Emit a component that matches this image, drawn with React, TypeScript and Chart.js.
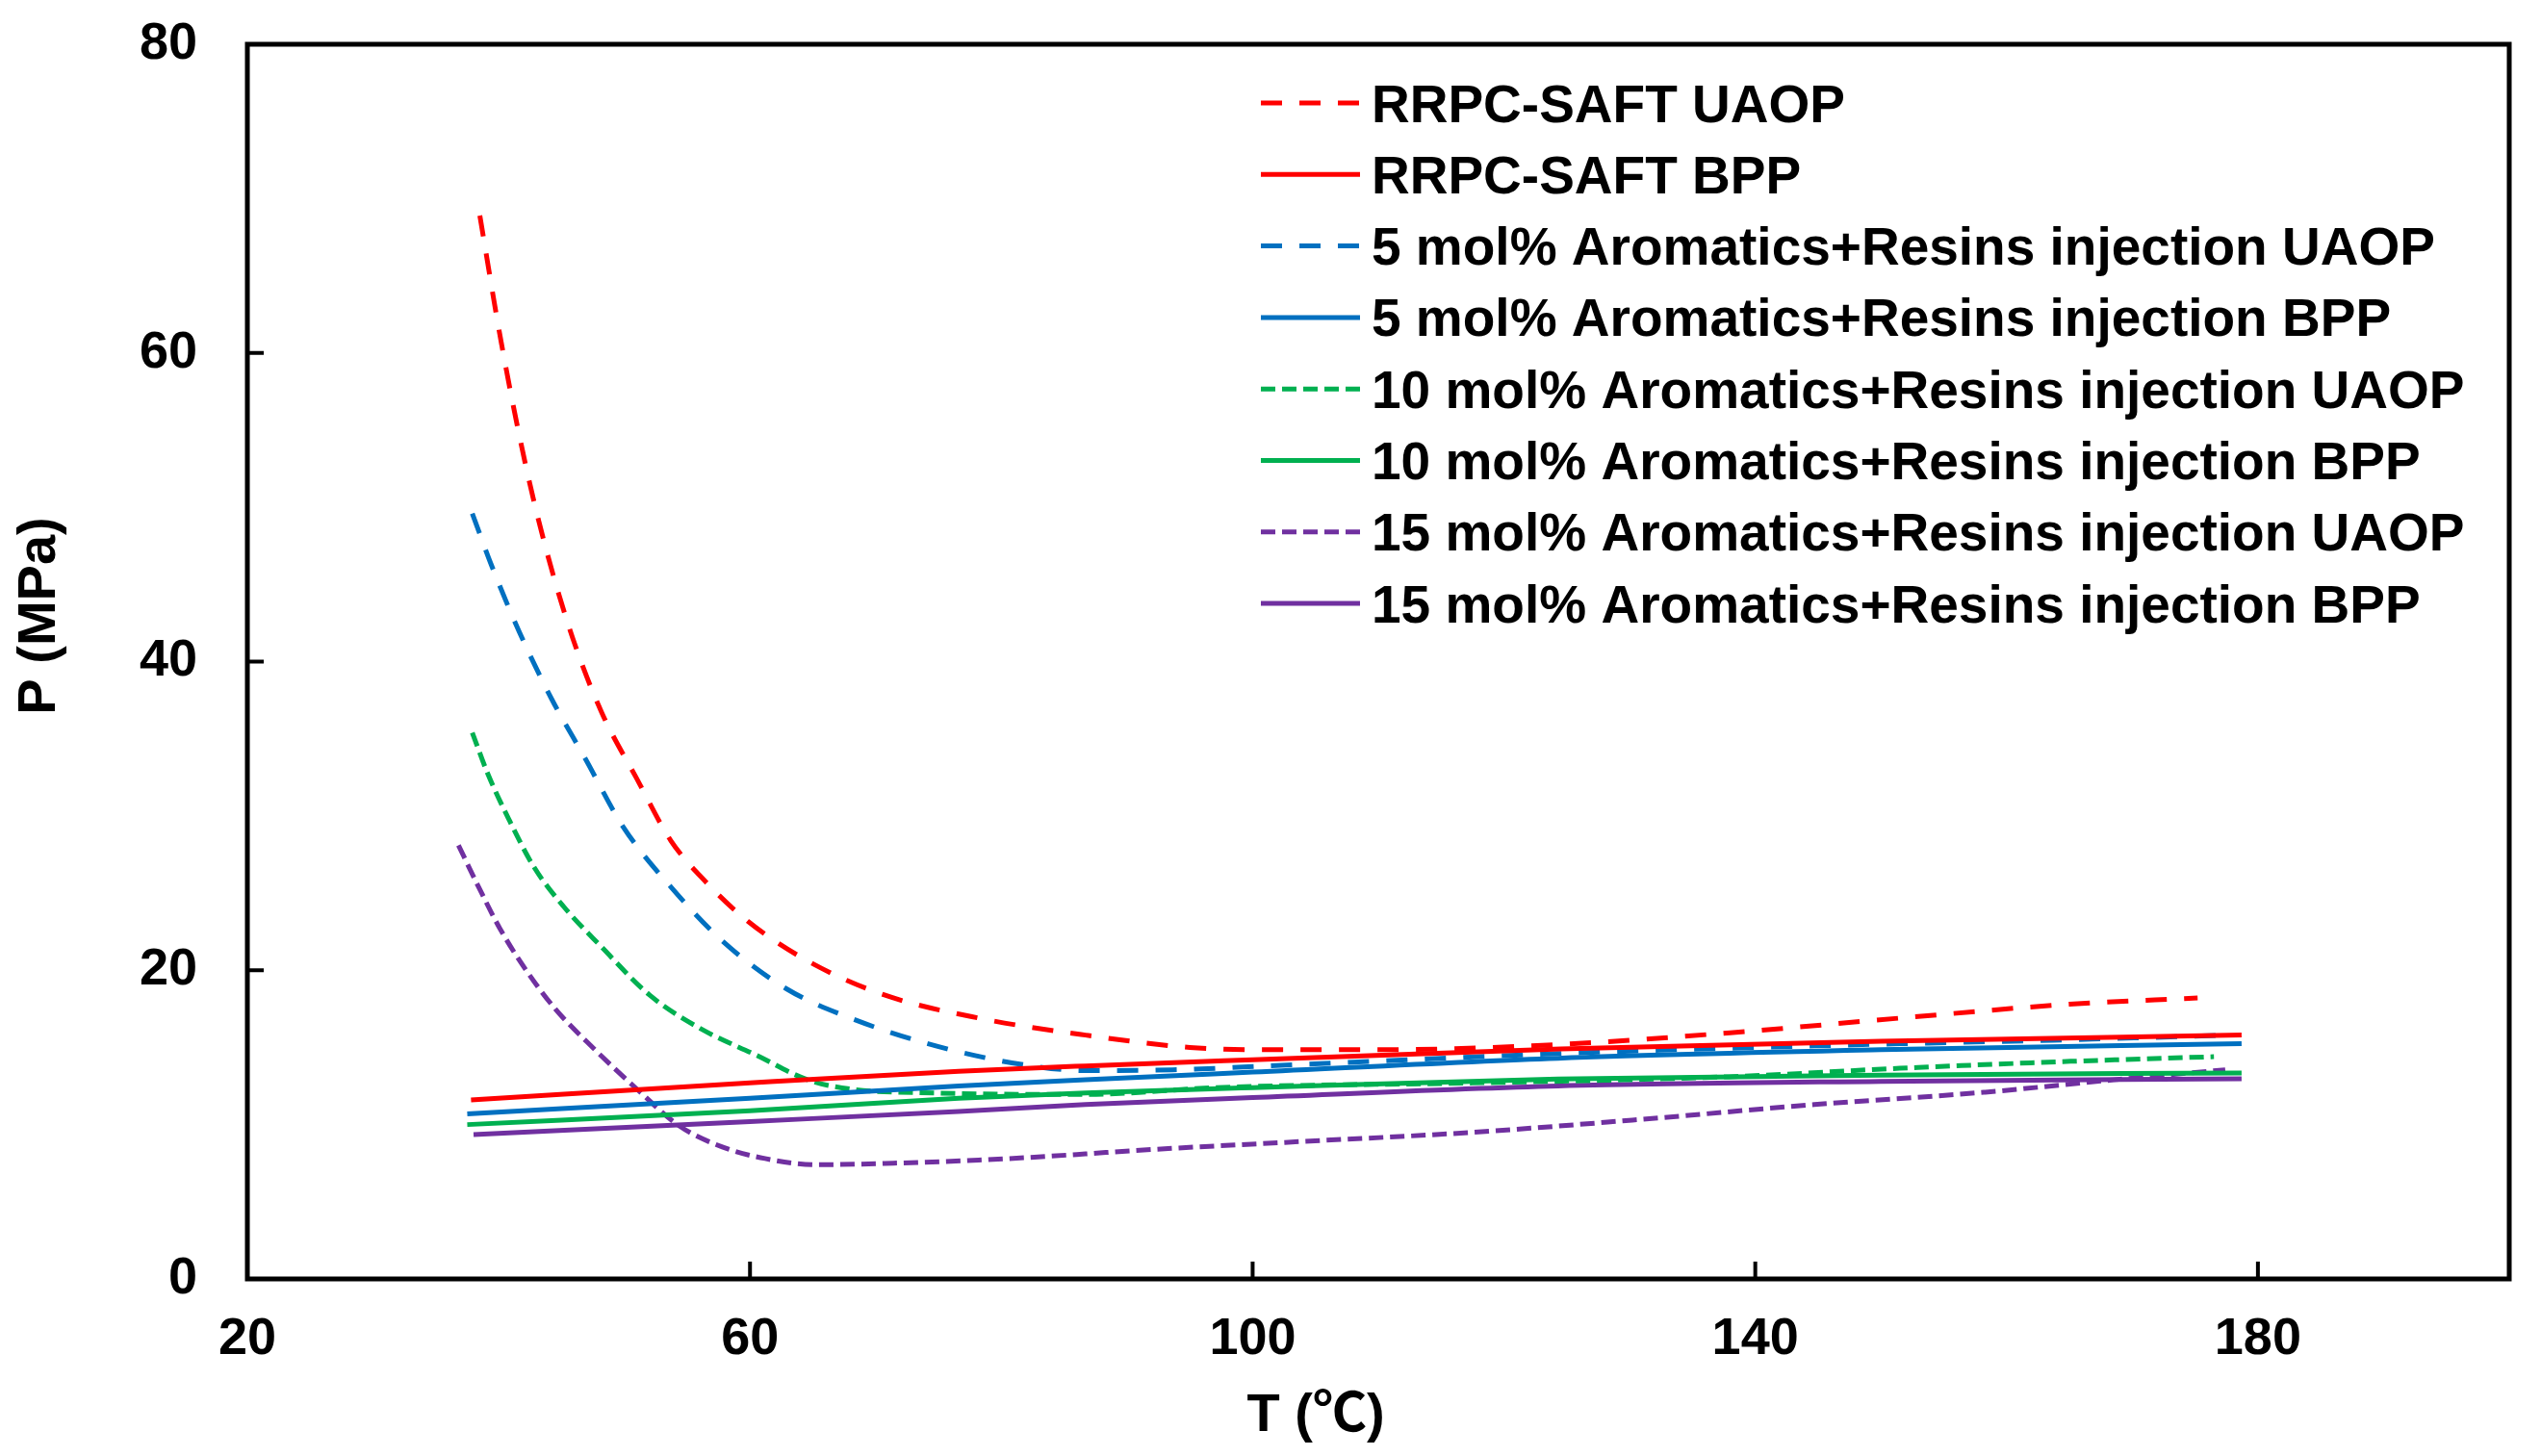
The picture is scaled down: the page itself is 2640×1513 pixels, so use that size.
import React, { useEffect, useRef } from "react";
import { Chart, registerables } from "chart.js";

Chart.register(...registerables);

// ---- Axis ticks ----
const X_TICKS = [20, 60, 100, 140, 180];
const Y_TICKS = [0, 20, 40, 60, 80];
const X_INNER_TICKS = [60, 100, 140, 180];
const Y_INNER_TICKS = [20, 40, 60];

// ---- Series labels ----
const SERIES_LABELS = [
  "RRPC-SAFT UAOP",
  "RRPC-SAFT BPP",
  "5 mol% Aromatics+Resins injection UAOP",
  "5 mol% Aromatics+Resins injection BPP",
  "10 mol% Aromatics+Resins injection UAOP",
  "10 mol% Aromatics+Resins injection BPP",
  "15 mol% Aromatics+Resins injection UAOP",
  "15 mol% Aromatics+Resins injection BPP",
];

// ---- RRPC-SAFT ----
const T_RRPC_UAOP = [38.5, 40.2, 42.1, 43.8, 45.9, 48.2, 51.0, 53.7, 56.4, 59.8, 64.6, 70.7, 78.2, 86.7, 95.0, 100.5, 110.5, 124.5, 138.0, 151.5, 165.0, 175.2];
const P_RRPC_UAOP = [68.9, 60.7, 52.9, 47.2, 41.5, 36.7, 32.4, 28.4, 25.8, 23.2, 20.6, 18.4, 16.9, 15.8, 15.0, 14.85, 14.85, 15.2, 15.95, 16.9, 17.8, 18.2];
const T_RRPC_BPP = [37.8, 60.0, 76.6, 86.7, 100.0, 124.5, 150.0, 178.7];
const P_RRPC_BPP = [11.6, 12.7, 13.45, 13.8, 14.2, 14.9, 15.4, 15.8];

// ---- 5 mol% ----
const T_5_UAOP = [37.9, 39.4, 41.6, 44.2, 46.9, 49.9, 53.7, 57.8, 62.9, 68.0, 74.8, 81.6, 86.7, 93.6, 103.8, 124.3, 144.7, 165.1, 178.0];
const P_5_UAOP = [49.6, 46.3, 42.0, 37.6, 33.7, 29.3, 25.4, 21.9, 18.8, 16.9, 15.1, 13.9, 13.5, 13.55, 13.9, 14.6, 15.1, 15.5, 15.8];
const T_5_BPP = [37.5, 60.0, 76.6, 86.7, 100.0, 124.3, 150.0, 178.7];
const P_5_BPP = [10.7, 11.7, 12.5, 12.9, 13.4, 14.3, 14.85, 15.25];

// ---- 10 mol% ----
const T_10_UAOP = [37.9, 39.1, 40.8, 42.8, 45.2, 48.2, 52.0, 56.1, 60.5, 64.6, 68.0, 74.8, 86.7, 97.1, 117.5, 137.9, 151.5, 165.1, 176.5];
const P_10_UAOP = [35.4, 32.8, 29.8, 26.7, 24.1, 21.5, 18.4, 16.2, 14.5, 12.9, 12.3, 12.05, 11.95, 12.4, 12.7, 13.1, 13.65, 14.1, 14.4];
const T_10_BPP = [37.5, 60.0, 76.6, 86.7, 100.0, 124.3, 150.0, 178.7];
const P_10_BPP = [10.0, 10.9, 11.7, 12.05, 12.4, 12.95, 13.2, 13.35];

// ---- 15 mol% ----
const T_15_UAOP = [36.8, 38.4, 40.1, 42.1, 44.5, 47.6, 51.0, 54.4, 57.8, 61.2, 65.3, 71.4, 78.2, 86.7, 90.2, 103.8, 117.5, 131.1, 144.7, 158.3, 168.5, 177.4];
const P_15_UAOP = [28.1, 25.4, 22.7, 20.1, 17.5, 14.9, 12.3, 9.9, 8.55, 7.8, 7.4, 7.5, 7.7, 8.1, 8.3, 8.9, 9.5, 10.35, 11.3, 12.1, 12.9, 13.55];
const T_15_BPP = [38.0, 60.0, 76.6, 86.7, 100.0, 124.3, 150.0, 178.7];
const P_15_BPP = [9.35, 10.2, 10.85, 11.3, 11.75, 12.5, 12.8, 12.97];

const RED = "#FF0000";
const BLUE = "#0070C0";
const GREEN = "#00B050";
const PURPLE = "#7030A0";

const LONG_DASH = [22, 18];
const SHORT_DASH = [15, 7];

const FONT_FAMILY = '"Liberation Sans", Arial, "Noto Sans CJK SC", sans-serif';

function zip(t: number[], p: number[]) {
  return t.map((x, i) => ({ x, y: p[i] }));
}

export default function App() {
  const ref = useRef<HTMLCanvasElement>(null);

  useEffect(() => {
    document.body.style.margin = "0";
    document.body.style.overflow = "hidden";
    const canvas = ref.current!;

    const seriesDefs = [
      { t: T_RRPC_UAOP, p: P_RRPC_UAOP, color: RED, dash: LONG_DASH },
      { t: T_RRPC_BPP, p: P_RRPC_BPP, color: RED, dash: [] as number[] },
      { t: T_5_UAOP, p: P_5_UAOP, color: BLUE, dash: LONG_DASH },
      { t: T_5_BPP, p: P_5_BPP, color: BLUE, dash: [] as number[] },
      { t: T_10_UAOP, p: P_10_UAOP, color: GREEN, dash: SHORT_DASH },
      { t: T_10_BPP, p: P_10_BPP, color: GREEN, dash: [] as number[] },
      { t: T_15_UAOP, p: P_15_UAOP, color: PURPLE, dash: SHORT_DASH },
      { t: T_15_BPP, p: P_15_BPP, color: PURPLE, dash: [] as number[] },
    ];

    const datasets = seriesDefs.map((s, i) => ({
      label: SERIES_LABELS[i],
      data: zip(s.t, s.p),
      borderColor: s.color,
      backgroundColor: s.color,
      borderWidth: 5,
      borderDash: s.dash,
      borderCapStyle: "butt" as const,
      pointRadius: 0,
      pointHoverRadius: 0,
      fill: false,
      cubicInterpolationMode: "monotone" as const,
    }));

    const framePlugin = {
      id: "frame",
      afterDatasetsDraw(chart: any) {
        const ctx = chart.ctx as CanvasRenderingContext2D;
        const area = chart.chartArea;
        const xs = chart.scales.x;
        const ys = chart.scales.y;
        ctx.save();
        ctx.setLineDash([]);
        ctx.strokeStyle = "#000";
        // inner ticks
        ctx.lineWidth = 4;
        X_INNER_TICKS.forEach((v) => {
          const px = xs.getPixelForValue(v);
          ctx.beginPath();
          ctx.moveTo(px, area.bottom);
          ctx.lineTo(px, area.bottom - 18);
          ctx.stroke();
        });
        Y_INNER_TICKS.forEach((v) => {
          const py = ys.getPixelForValue(v);
          ctx.beginPath();
          ctx.moveTo(area.left, py);
          ctx.lineTo(area.left + 17, py);
          ctx.stroke();
        });
        // box
        ctx.lineWidth = 5;
        ctx.lineJoin = "miter";
        ctx.strokeRect(area.left, area.top, area.right - area.left, area.bottom - area.top);

        // axis titles
        ctx.fillStyle = "#000";
        ctx.font = `bold 56px ${FONT_FAMILY}`;
        ctx.textAlign = "center";
        ctx.textBaseline = "middle";
        ctx.fillText("T (℃)", 1367, 1472);
        ctx.save();
        ctx.translate(42, 640);
        ctx.rotate(-Math.PI / 2);
        ctx.fillText("P (MPa)", 0, 0);
        ctx.restore();

        // legend
        const x0 = 1310;
        const x1 = 1413;
        const tx = 1425;
        ctx.font = `bold 55px ${FONT_FAMILY}`;
        ctx.textAlign = "left";
        ctx.textBaseline = "alphabetic";
        seriesDefs.forEach((s, i) => {
          const y = 107 + i * 74.3;
          ctx.strokeStyle = s.color;
          ctx.lineWidth = 5;
          ctx.lineCap = "butt";
          ctx.setLineDash(s.dash);
          ctx.lineDashOffset = 0;
          ctx.beginPath();
          ctx.moveTo(x0, y);
          ctx.lineTo(x1, y);
          ctx.stroke();
          ctx.setLineDash([]);
          ctx.fillStyle = "#000";
          ctx.fillText(SERIES_LABELS[i], tx, y + 19.5);
        });
        ctx.restore();
      },
    };

    const chart = new Chart(canvas, {
      type: "line",
      data: { datasets },
      options: {
        responsive: false,
        devicePixelRatio: 1,
        animation: false,
        events: [],
        layout: { padding: { top: 46, right: 33, left: 0, bottom: 0 } },
        plugins: {
          legend: { display: false },
          tooltip: { enabled: false },
          title: { display: false },
        },
        scales: {
          x: {
            type: "linear",
            min: 20,
            max: 200,
            grid: { display: false, drawTicks: false },
            border: { display: false },
            ticks: {
              stepSize: 40,
              includeBounds: false,
              padding: 31,
              color: "#000",
              font: { family: FONT_FAMILY, size: 54, weight: "bold" },
              maxRotation: 0,
              autoSkip: false,
            },
            afterBuildTicks: (scale: any) => {
              scale.ticks = X_TICKS.map((v) => ({ value: v }));
            },
            afterFit: (scale: any) => {
              scale.height = 1513 - 1329;
              scale.paddingLeft = 0;
              scale.paddingRight = 0;
              scale.paddingTop = 0;
              scale.paddingBottom = 0;
            },
          },
          y: {
            type: "linear",
            min: 0,
            max: 80,
            grid: { display: false, drawTicks: false },
            border: { display: false },
            ticks: {
              stepSize: 20,
              padding: 52,
              color: "#000",
              font: { family: FONT_FAMILY, size: 54, weight: "bold" },
            },
            afterBuildTicks: (scale: any) => {
              scale.ticks = Y_TICKS.map((v) => ({ value: v }));
            },
            afterFit: (scale: any) => {
              scale.width = 257;
              scale.paddingLeft = 0;
              scale.paddingRight = 0;
              scale.paddingTop = 0;
              scale.paddingBottom = 0;
            },
          },
        },
      },
      plugins: [framePlugin],
    } as any);

    return () => chart.destroy();
  }, []);

  return (
    <div style={{ width: 2640, height: 1513, background: "#fff" }}>
      <canvas ref={ref} width={2640} height={1513} style={{ display: "block", width: 2640, height: 1513 }} />
    </div>
  );
}
